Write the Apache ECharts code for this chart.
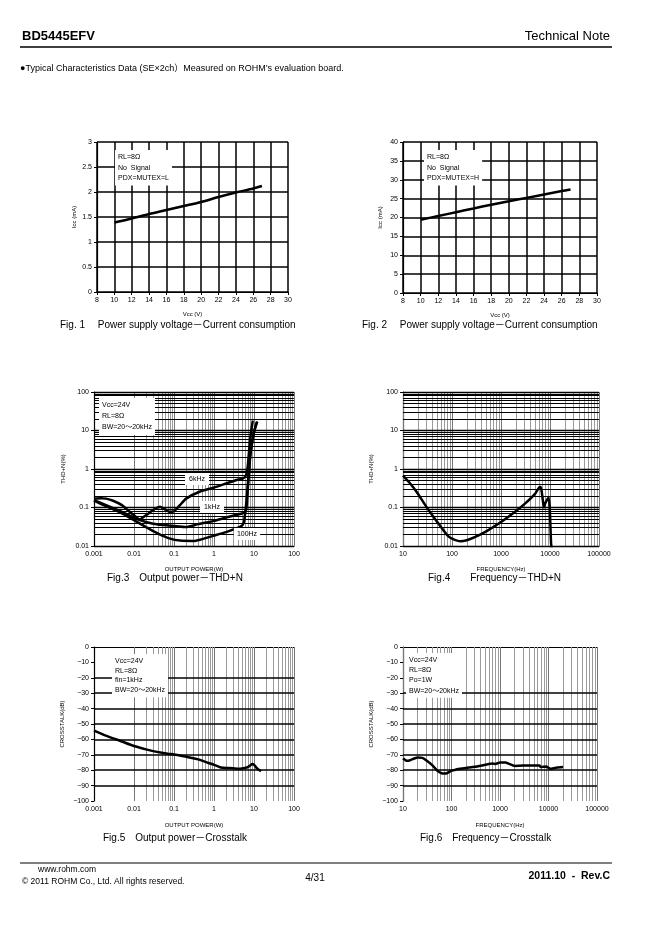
<!DOCTYPE html>
<html><head><meta charset="utf-8">
<script src="https://cdn.jsdelivr.net/npm/echarts@6/dist/echarts.min.js"></script>
<style>html,body{margin:0;padding:0;background:#fff}#c{width:662px;height:936px}</style>
</head><body><div id="c"></div>
<script>
// ---------- DATA ----------
const fig1Vcc = [10, 12, 14, 16, 18, 20, 22, 24, 26, 27];
const fig1Icc = [1.39, 1.47, 1.56, 1.64, 1.72, 1.80, 1.90, 1.99, 2.07, 2.12];
const fig2Vcc = [10, 12, 14, 16, 18, 20, 22, 24, 26, 27];
const fig2Icc = [19.4, 20.4, 21.4, 22.4, 23.4, 24.3, 25.2, 26.1, 27.0, 27.4];

const fig3Pow6k = [0.001, 0.0015, 0.002, 0.003, 0.005, 0.007, 0.01, 0.014, 0.02, 0.032, 0.045, 0.055, 0.078, 0.1, 0.14, 0.2, 0.45, 1, 2, 3.7, 5, 6, 6.5, 7, 7.5, 8, 8.5, 9, 9.3];
const fig3Thd6k = [0.17, 0.175, 0.17, 0.15, 0.115, 0.085, 0.063, 0.049, 0.063, 0.089, 0.104, 0.094, 0.077, 0.08, 0.115, 0.17, 0.26, 0.33, 0.42, 0.52, 0.55, 0.63, 0.75, 1.2, 2.8, 6, 9.5, 14, 18];
const fig3Pow1k = [0.001, 0.002, 0.005, 0.01, 0.02, 0.04, 0.1, 0.2, 0.4, 1, 2, 4, 5, 6, 6.5, 7, 7.5, 8, 9, 10, 11, 12];
const fig3Thd1k = [0.155, 0.115, 0.077, 0.054, 0.042, 0.036, 0.033, 0.031, 0.037, 0.045, 0.055, 0.066, 0.07, 0.075, 0.1, 0.3, 0.8, 2, 5, 9, 13, 17];
const fig3Pow100 = [0.001, 0.002, 0.005, 0.01, 0.02, 0.04, 0.08, 0.14, 0.3, 0.45, 1, 2, 4, 5, 5.6, 6, 6.5, 7, 7.5, 8, 9, 10, 11, 12];
const fig3Thd100 = [0.15, 0.108, 0.07, 0.047, 0.031, 0.021, 0.0155, 0.0138, 0.0135, 0.0146, 0.0186, 0.023, 0.03, 0.034, 0.042, 0.07, 0.15, 0.4, 1, 2.2, 5, 9, 13, 17];

const fig4Freq = [10, 15, 20, 30, 50, 80, 100, 150, 200, 300, 500, 1000, 2000, 3000, 5000, 6000, 6500, 7000, 7500, 8000, 9000, 9500, 10000, 10500, 11000];
const fig4Thd = [0.67, 0.38, 0.23, 0.104, 0.042, 0.019, 0.0155, 0.0132, 0.0141, 0.0172, 0.024, 0.042, 0.08, 0.122, 0.23, 0.33, 0.34, 0.19, 0.10, 0.128, 0.17, 0.18, 0.07, 0.012, 0.008];

const fig5Pow = [0.001, 0.0015, 0.002, 0.003, 0.004, 0.006, 0.01, 0.015, 0.02, 0.03, 0.05, 0.07, 0.1, 0.15, 0.2, 0.3, 0.4, 0.5, 0.7, 1, 1.2, 1.5, 2, 3, 4, 5, 6, 7, 8, 9, 10, 11, 12, 15];
const fig5Ct = [-54.3, -56.2, -57.6, -59.3, -60.4, -62.2, -64.3, -65.6, -66.5, -67.6, -68.7, -69.3, -69.8, -70.6, -71.3, -72.2, -73.0, -73.8, -75.2, -76.5, -77.3, -78.3, -78.6, -78.7, -79.1, -78.9, -78.5, -78.0, -77.0, -76.0, -76.5, -77.8, -78.9, -80.7];

const fig6Freq = [10, 12, 14, 17, 20, 25, 30, 40, 50, 60, 70, 80, 100, 150, 200, 300, 500, 700, 800, 1000, 1300, 1500, 2000, 3000, 5000, 6500, 7000, 8000, 9000, 10000, 11000, 13000, 15000, 20000];
const fig6Ct = [-72.4, -73.9, -73.5, -72.4, -71.7, -72, -73.5, -76.7, -80, -81.7, -82.2, -82, -80.4, -79.1, -78.5, -77.8, -76.5, -75.7, -75.9, -75, -75, -75.7, -77.2, -77, -77, -77, -78, -77.8, -77.6, -78.5, -79.1, -78.7, -78.3, -78];

// ---------- HELPERS ----------
const FONT = '"Liberation Sans", "Noto Sans CJK JP", Arial, sans-serif';
const pairs = (xs, ys) => xs.map((x, i) => [x, ys[i]]);
function logValues(min, max) {
  const out = [];
  for (let d = min; d < max * 1.0001; d *= 10) {
    for (let k = 1; k <= 9; k++) {
      const v = +(d * k).toPrecision(6);
      if (v > max * 1.0001) break;
      out.push({ v: v, major: k === 1 });
    }
  }
  return out;
}
const fmtNum = v => String(+(+v).toPrecision(6));
const minusFmt = v => v < 0 ? '\u2212' + Math.abs(v) : String(v);

function gridSeries(idx, key, items) {
  return {
    type: 'line', xAxisIndex: idx, yAxisIndex: idx, data: [], z: 1, silent: true,
    markLine: {
      silent: true, symbol: ['none', 'none'], label: { show: false }, animation: false,
      emphasis: { disabled: true },
      data: items.map(it => ({ [key]: it.v, lineStyle: it.style }))
    }
  };
}
function curve(idx, data, smooth) {
  return {
    type: 'line', xAxisIndex: idx, yAxisIndex: idx, data: data, z: 5,
    showSymbol: false, smooth: smooth === undefined ? 0.15 : smooth, animation: false,
    lineStyle: { color: '#000', width: 2.5 }
  };
}
const axisLabel = { color: '#000', fontSize: 7, fontFamily: FONT, margin: 5 };
const nameStyle = { color: '#000', fontSize: 6, fontFamily: FONT };
const blackSplit = { show: true, lineStyle: { color: '#000', width: 1.5 } };
const axisLine = { show: true, lineStyle: { color: '#000', width: 1.2 } };
const tick = { show: true, length: 3, lineStyle: { color: '#000' } };

const grids = [
  { left: 97, top: 142, width: 191, height: 150 },
  { left: 403, top: 142, width: 194, height: 151 },
  { left: 94, top: 392, width: 200, height: 154 },
  { left: 403, top: 392, width: 196, height: 154 },
  { left: 94, top: 647, width: 200, height: 154 },
  { left: 403, top: 647, width: 194, height: 154 }
];

const xAxes = [
  { gridIndex: 0, type: 'value', min: 8, max: 30, interval: 2, name: 'Vcc (V)', nameLocation: 'middle', nameGap: 19, nameTextStyle: nameStyle, axisLine, axisTick: tick, axisLabel, splitLine: blackSplit },
  { gridIndex: 1, type: 'value', min: 8, max: 30, interval: 2, name: 'Vcc (V)', nameLocation: 'middle', nameGap: 19, nameTextStyle: nameStyle, axisLine, axisTick: tick, axisLabel, splitLine: blackSplit },
  { gridIndex: 2, type: 'log', logBase: 10, min: 0.001, max: 100, name: 'OUTPUT POWER(W)', nameLocation: 'middle', nameGap: 20, nameTextStyle: nameStyle, axisLine, axisTick: { show: false }, axisLabel: Object.assign({ formatter: fmtNum }, axisLabel), splitLine: { show: false } },
  { gridIndex: 3, type: 'log', logBase: 10, min: 10, max: 100000, name: 'FREQUENCY(Hz)', nameLocation: 'middle', nameGap: 20, nameTextStyle: nameStyle, axisLine, axisTick: { show: false }, axisLabel: Object.assign({ formatter: fmtNum }, axisLabel), splitLine: { show: false } },
  { gridIndex: 4, type: 'log', logBase: 10, min: 0.001, max: 100, name: 'OUTPUT POWER(W)', nameLocation: 'middle', nameGap: 21, nameTextStyle: nameStyle, axisLine, axisTick: { show: false }, axisLabel: Object.assign({ formatter: fmtNum }, axisLabel), splitLine: { show: false } },
  { gridIndex: 5, type: 'log', logBase: 10, min: 10, max: 100000, name: 'FREQUENCY(Hz)', nameLocation: 'middle', nameGap: 21, nameTextStyle: nameStyle, axisLine, axisTick: { show: false }, axisLabel: Object.assign({ formatter: fmtNum }, axisLabel), splitLine: { show: false } }
];
const yAxes = [
  { gridIndex: 0, type: 'value', min: 0, max: 3, interval: 0.5, name: 'Icc (mA)', nameLocation: 'middle', nameGap: 20, nameTextStyle: nameStyle, axisLine, axisTick: tick, axisLabel, splitLine: blackSplit },
  { gridIndex: 1, type: 'value', min: 0, max: 40, interval: 5, name: 'Icc (mA)', nameLocation: 'middle', nameGap: 20, nameTextStyle: nameStyle, axisLine, axisTick: tick, axisLabel, splitLine: blackSplit },
  { gridIndex: 2, type: 'log', logBase: 10, min: 0.01, max: 100, name: 'THD+N(%)', nameLocation: 'middle', nameGap: 28, nameTextStyle: nameStyle, axisLine, axisTick: tick, axisLabel: Object.assign({ formatter: fmtNum }, axisLabel), splitLine: { show: false } },
  { gridIndex: 3, type: 'log', logBase: 10, min: 0.01, max: 100, name: 'THD+N(%)', nameLocation: 'middle', nameGap: 29, nameTextStyle: nameStyle, axisLine, axisTick: tick, axisLabel: Object.assign({ formatter: fmtNum }, axisLabel), splitLine: { show: false } },
  { gridIndex: 4, type: 'value', min: -100, max: 0, interval: 10, name: 'CROSSTALK(dB)', nameLocation: 'middle', nameGap: 29, nameTextStyle: nameStyle, axisLine, axisTick: tick, axisLabel: Object.assign({ formatter: minusFmt }, axisLabel), splitLine: { show: false } },
  { gridIndex: 5, type: 'value', min: -100, max: 0, interval: 10, name: 'CROSSTALK(dB)', nameLocation: 'middle', nameGap: 29, nameTextStyle: nameStyle, axisLine, axisTick: tick, axisLabel: Object.assign({ formatter: minusFmt }, axisLabel), splitLine: { show: false } }
];

const vGray = items => items.map(it => ({ v: it.v, style: { color: it.major ? '#777' : '#9a9a9a', width: 1, type: 'solid' } }));
const hBlack = items => items.map(it => ({ v: it.v, style: { color: '#000', width: it.major ? 1.3 : 1, type: 'solid' } }));
const dbLines = vals => vals.map(v => ({ v: v, style: { color: '#000', width: 1.5, type: 'solid' } }));

const series = [
  curve(0, pairs(fig1Vcc, fig1Icc), 0.3),
  curve(1, pairs(fig2Vcc, fig2Icc), 0.3),
  gridSeries(2, 'xAxis', vGray(logValues(0.001, 100))),
  gridSeries(2, 'yAxis', hBlack(logValues(0.01, 100))),
  curve(2, pairs(fig3Pow6k, fig3Thd6k)),
  curve(2, pairs(fig3Pow1k, fig3Thd1k)),
  curve(2, pairs(fig3Pow100, fig3Thd100)),
  gridSeries(3, 'xAxis', vGray(logValues(10, 100000))),
  gridSeries(3, 'yAxis', hBlack(logValues(0.01, 100))),
  curve(3, pairs(fig4Freq, fig4Thd)),
  gridSeries(4, 'xAxis', vGray(logValues(0.001, 100))),
  gridSeries(4, 'yAxis', dbLines([-20, -30, -40, -50, -60, -70, -80, -90])),
  curve(4, pairs(fig5Pow, fig5Ct)),
  gridSeries(5, 'xAxis', vGray(logValues(10, 100000))),
  gridSeries(5, 'yAxis', dbLines([-30, -40, -50, -60, -70, -80, -90])),
  curve(5, pairs(fig6Freq, fig6Ct))
];

// ---------- TEXT ----------
function txt(x, y, text, size, opt) {
  opt = opt || {};
  return {
    type: 'text', x: x, y: y, z: 100, silent: true,
    style: Object.assign({
      text: text, fill: '#000',
      font: (opt.bold ? 'bold ' : '') + size + 'px ' + FONT,
      align: opt.align || 'left', verticalAlign: opt.va || 'middle'
    }, opt.box ? { backgroundColor: '#fff', padding: opt.pad || [2, 3, 2, 3], lineHeight: opt.lh || size + 3 } : {})
  };
}
const hline = (x1, x2, y, w) => ({ type: 'line', z: 100, silent: true, shape: { x1, y1: y, x2, y2: y }, style: { stroke: '#000', lineWidth: w } });

const graphics = [
  txt(22, 36, 'BD5445EFV', 13, { bold: true }),
  txt(610, 36, 'Technical Note', 13, { align: 'right' }),
  hline(20, 612, 47, 1.5),
  txt(20, 69, '\u25CFTypical Characteristics Data (SE\u00D72ch\uFF09Measured on ROHM\u2019s evaluation board.', 9),

  txt(115, 150, 'RL=8\u03A9\nNo  Signal\nPDX=MUTEX=L', 7, { box: true, va: 'top', lh: 10.5 }),
  txt(424, 150, 'RL=8\u03A9\nNo  Signal\nPDX=MUTEX=H', 7, { box: true, va: 'top', lh: 10.5 }),
  txt(60, 325, 'Fig. 1\u3000 Power supply voltage\uFF0DCurrent consumption', 10),
  txt(362, 325, 'Fig. 2\u3000 Power supply voltage\uFF0DCurrent consumption', 10),

  txt(99, 398, 'Vcc=24V\nRL=8\u03A9\nBW=20\uFF5E20kHz', 7, { box: true, va: 'top', lh: 11 }),
  txt(197, 479, '6kHz', 7, { box: true, align: 'center', pad: [1, 4, 1, 4] }),
  txt(212, 507, '1kHz', 7, { box: true, align: 'center', pad: [1, 4, 1, 4] }),
  txt(247, 534, '100Hz', 7, { box: true, align: 'center', pad: [1, 3, 1, 3] }),
  txt(107, 578, 'Fig.3\u3000Output power\uFF0DTHD+N', 10),
  txt(428, 578, 'Fig.4\u3000\u3000Frequency\uFF0DTHD+N', 10),

  txt(112, 654, 'Vcc=24V\nRL=8\u03A9\nfin=1kHz\nBW=20\uFF5E20kHz', 7, { box: true, va: 'top', lh: 9.8 }),
  txt(406, 653, 'Vcc=24V\nRL=8\u03A9\nPo=1W\nBW=20\uFF5E20kHz', 7, { box: true, va: 'top', lh: 10.2 }),
  txt(103, 838, 'Fig.5\u3000Output power\uFF0DCrosstalk', 10),
  txt(420, 838, 'Fig.6\u3000Frequency\uFF0DCrosstalk', 10),

  hline(20, 612, 863, 1.2),
  txt(38, 870, 'www.rohm.com', 8.5),
  txt(22, 882, '\u00A9 2011 ROHM Co., Ltd. All rights reserved.', 8.5),
  txt(315, 878, '4/31', 10, { align: 'center' }),
  txt(610, 876, '2011.10  -  Rev.C', 10.5, { bold: true, align: 'right' })
];

const chart = echarts.init(document.getElementById('c'), null, { renderer: 'canvas' });
chart.setOption({
  animation: false,
  backgroundColor: '#fff',
  grid: grids,
  xAxis: xAxes,
  yAxis: yAxes,
  series: series,
  graphic: graphics
});
</script>
</body></html>
